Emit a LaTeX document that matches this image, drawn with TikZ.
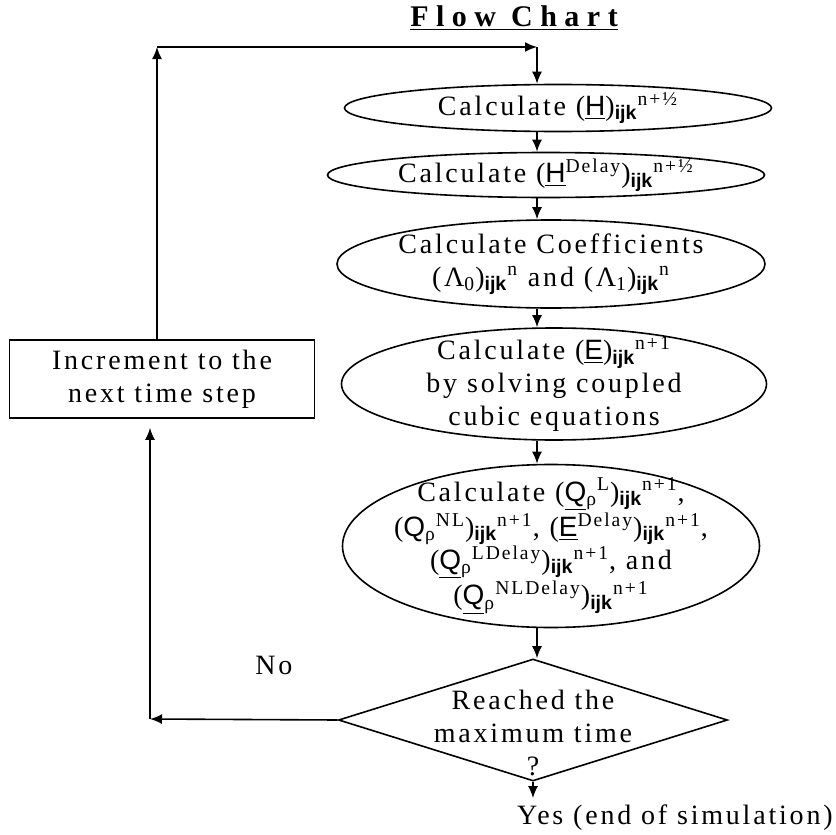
\documentclass[tikz,border=0pt]{standalone}
\usepackage{fontspec}
\setmainfont{Liberation Serif}[LetterSpace=10]
\setsansfont{Liberation Sans}
\usetikzlibrary{arrows.meta,shapes.geometric}
\newcommand{\ijk}{\textsubscript{\sffamily\bfseries ijk}}
\newcommand{\us}[1]{\underline{\sffamily #1}}
\begin{document}
\begin{tikzpicture}[x=0.5pt,y=-0.5pt,font=\fontsize{14}{16.5}\selectfont]
	\tikzset{calc/.style = {shape=ellipse,draw,thick,inner sep=-6pt,align=center}}
	\tikzset{block/.style = {shape=rectangle,draw,thick,inner sep=0pt,align=center}}
	\tikzset{test/.style = {shape=diamond,draw,thick,inner sep=0pt}}
	\tikzset{edge/.style = {->,> = {Latex[length=6pt,width=5pt]},thick}}
	\useasboundingbox (0,0) rectangle (836,835);
	\node[font=\fontsize{15}{17}\selectfont\bfseries\addfontfeature{LetterSpace=25}] (title) at (514,18) {\underline{Flow Chart}};
	\node[calc, minimum width=213.5pt, minimum height=23.5pt] (e1) at (558,108) {Calculate (\us{H})\ijk\textsuperscript{n+½}};
	\node[calc, minimum width=218.5pt, minimum height=22.5pt] (e2) at (546,175) {Calculate (\us{H}\textsuperscript{Delay})\ijk\textsuperscript{n+½}};
	\node[calc, minimum width=214pt, minimum height=44pt] (e3) at (551,264) {Calculate Coefficients\\(Λ\textsubscript{0})\ijk\textsuperscript{n} and (Λ\textsubscript{1})\ijk\textsuperscript{n}};
	\node[calc, minimum width=212.5pt, minimum height=56pt] (e4) at (554,384) {Calculate (\us{E})\ijk\textsuperscript{n+1}\\by solving coupled\\cubic equations};
	\node[calc, minimum width=208.5pt, minimum height=81.5pt, inner sep=-10pt] (e5) at (551,546) {Calculate (\us{Q}\textsubscript{ρ}\textsuperscript{L})\ijk\textsuperscript{n+1},\\({\sffamily Q}\textsubscript{ρ}\textsuperscript{NL})\ijk\textsuperscript{n+1}, (\us{E}\textsuperscript{Delay})\ijk\textsuperscript{n+1},\\(\us{Q}\textsubscript{ρ}\textsuperscript{LDelay})\ijk\textsuperscript{n+1}, and\\(\us{Q}\textsubscript{ρ}\textsuperscript{NLDelay})\ijk\textsuperscript{n+1}};
	\node[test, minimum width=194.5pt, minimum height=61pt, label={[align=center,yshift=-6.5pt]center:Reached the\\maximum time\\?}] (dec) at (533,720) {};
	\node[block, minimum width=152.5pt, minimum height=39pt] (box) at (162,379) {Increment to the\\next time step};
	\node (no) at (274,665) {No};
	\node[anchor=west] (yes) at (510,818) {Yes (end of simulation)};
	\coordinate (tl) at (157,47);
	\coordinate (tr) at (537,47);
	\coordinate (bl) at (150,719);
	\path[edge] (tl |- box.north) edge (tl);
	\path[edge] (tl) edge (tr);
	\path[edge] (tr) edge (tr |- e1.north);
	\foreach \a/\b in {e1/e2,e2/e3,e3/e4,e4/e5,e5/dec}
		\path[edge] (\a.south -| tr) edge (\b.north -| tr);
	\path[edge] (dec.west) edge (bl);
	\path[edge,shorten >=4.5pt] (bl) edge (bl |- box.south);
	\path[edge] (dec.south) edge (dec.south |- yes.north);
\end{tikzpicture}
\end{document}
